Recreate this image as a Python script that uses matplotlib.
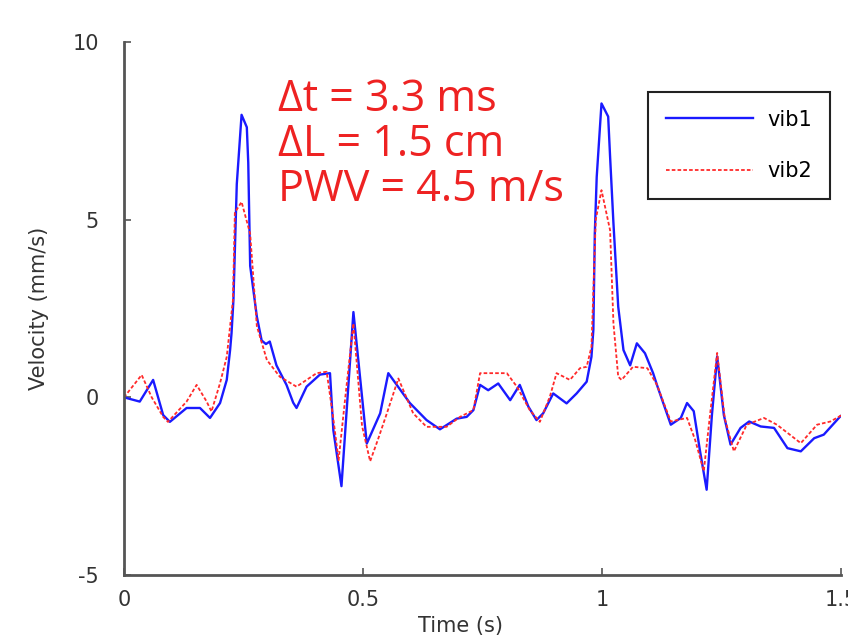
import matplotlib
matplotlib.use("Agg")
import matplotlib.pyplot as plt

# vib1 (blue, solid) - time (s) and velocity (mm/s)
t_vib1 = [0.000, 0.033, 0.061, 0.082, 0.096, 0.131, 0.159, 0.180, 0.201, 0.215,
          0.222, 0.225, 0.229, 0.236, 0.246, 0.257, 0.260, 0.264, 0.278, 0.288,
          0.297, 0.305, 0.319, 0.340, 0.354, 0.361, 0.382, 0.410, 0.431, 0.438,
          0.455, 0.480, 0.508, 0.536, 0.553, 0.598, 0.633, 0.661, 0.696, 0.717,
          0.731, 0.745, 0.762, 0.783, 0.808, 0.828, 0.846, 0.863, 0.877, 0.898,
          0.926, 0.947, 0.968, 0.978, 0.982, 0.985, 0.989, 0.999, 1.013, 1.017,
          1.024, 1.034, 1.045, 1.059, 1.073, 1.090, 1.107, 1.115, 1.144, 1.165,
          1.178, 1.192, 1.205, 1.219, 1.230, 1.241, 1.255, 1.269, 1.290, 1.308,
          1.332, 1.360, 1.388, 1.416, 1.444, 1.464, 1.499]
v_vib1 = [0.00, -0.12, 0.49, -0.50, -0.69, -0.30, -0.30, -0.58, -0.16, 0.49,
          1.33, 1.80, 2.74, 6.00, 7.95, 7.60, 6.60, 3.70, 2.27, 1.60,
          1.50, 1.57, 0.90, 0.35, -0.15, -0.30, 0.30, 0.64, 0.68, -0.92,
          -2.50, 2.40, -1.30, -0.45, 0.68, -0.16, -0.64, -0.90, -0.60, -0.55,
          -0.36, 0.35, 0.20, 0.39, -0.08, 0.35, -0.26, -0.64, -0.45, 0.11,
          -0.17, 0.11, 0.44, 1.14, 1.90, 4.60, 6.20, 8.27, 7.90, 6.77,
          4.90, 2.55, 1.33, 0.90, 1.52, 1.24, 0.68, 0.35, -0.77, -0.58,
          -0.16, -0.39, -1.50, -2.60, -0.50, 1.15, -0.50, -1.33, -0.86, -0.68,
          -0.82, -0.86, -1.43, -1.52, -1.15, -1.05, -0.53]

# vib2 (red, dashed)
t_vib2 = [0.000, 0.037, 0.058, 0.082, 0.092, 0.131, 0.152, 0.173, 0.183, 0.201,
          0.215, 0.228, 0.232, 0.246, 0.264, 0.278, 0.299, 0.326, 0.361, 0.382,
          0.403, 0.424, 0.437, 0.449, 0.463, 0.480, 0.498, 0.515, 0.531, 0.550,
          0.574, 0.605, 0.633, 0.675, 0.703, 0.731, 0.745, 0.766, 0.801, 0.822,
          0.849, 0.870, 0.891, 0.905, 0.933, 0.954, 0.968, 0.978, 0.982, 0.987,
          0.999, 1.017, 1.024, 1.034, 1.041, 1.065, 1.095, 1.115, 1.144, 1.178,
          1.195, 1.213, 1.226, 1.241, 1.257, 1.276, 1.303, 1.339, 1.366, 1.416,
          1.450, 1.478, 1.503]
v_vib2 = [0.00, 0.63, 0.00, -0.55, -0.69, -0.12, 0.35, -0.12, -0.40, 0.40,
          1.14, 2.74, 5.20, 5.50, 4.60, 2.00, 1.05, 0.58, 0.30, 0.49,
          0.68, 0.72, -0.50, -1.77, 0.00, 2.08, -0.80, -1.80, -1.20, -0.45,
          0.53, -0.45, -0.83, -0.83, -0.55, -0.36, 0.68, 0.68, 0.68, 0.30,
          -0.36, -0.69, 0.02, 0.68, 0.49, 0.82, 0.86, 1.42, 3.00, 5.00,
          5.83, 4.70, 2.08, 0.58, 0.49, 0.86, 0.82, 0.35, -0.68, -0.58,
          -1.20, -2.08, -0.50, 1.25, -0.60, -1.52, -0.77, -0.58, -0.77, -1.29,
          -0.77, -0.68, -0.49]

x_ticks = [0, 0.5, 1, 1.5]
x_ticklabels = ["0", "0.5", "1", "1.5"]
y_ticks = [-5, 0, 5, 10]
y_ticklabels = ["-5", "0", "5", "10"]
notes = ["\u0394t = 3.3 ms", "\u0394L = 1.5 cm", "PWV = 4.5 m/s"]

plt.rcParams["font.family"] = ["DejaVu Sans"]

fig = plt.figure(figsize=(8.48, 6.36), dpi=100)
ax = fig.add_axes([0.1462, 0.0959, 0.8455, 0.8381])

ax.plot(t_vib1, v_vib1, color="#1a1aff", lw=1.7, label="vib1")
ax.plot(t_vib2, v_vib2, color="#ff2a2a", lw=1.3, ls=(0, (2, 1.2)), label="vib2")

ax.set_xlim(0, 1.5)
ax.set_ylim(-5, 10)
ax.set_xticks(x_ticks)
ax.set_xticklabels(x_ticklabels)
ax.set_yticks(y_ticks)
ax.set_yticklabels(y_ticklabels)

for side in ["top", "right"]:
    ax.spines[side].set_visible(False)
for side in ["left", "bottom"]:
    ax.spines[side].set_color("#555555")
    ax.spines[side].set_linewidth(2)
ax.tick_params(direction="in", length=5, width=1.2, color="#555555",
               labelsize=15, labelcolor="#333333")
ax.tick_params(axis="x", pad=11)
ax.tick_params(axis="y", pad=18)

ax.set_xlabel("Time (s)", fontsize=15, color="#333333", va="top")
ax.xaxis.set_label_coords(0.47, -0.077)
ax.set_ylabel("Velocity (mm/s)", fontsize=15, color="#333333")
ax.yaxis.set_label_coords(-0.104, 0.5)

for i, s in enumerate(notes):
    ax.text(0.322, 8.37 - i * 1.26, s, color="#ee2222", fontsize=31,
            family=["Open Sans", "DejaVu Sans"], va="center", ha="left")

leg = ax.legend(loc="upper right", bbox_to_anchor=(0.985, 0.906),
                borderaxespad=0, fontsize=15, handlelength=4.2,
                handletextpad=0.7, labelspacing=1.5, borderpad=0.85,
                fancybox=False, framealpha=1, edgecolor="#222222")
leg.get_frame().set_linewidth(1.5)

fig.savefig("out.png", dpi=100)
